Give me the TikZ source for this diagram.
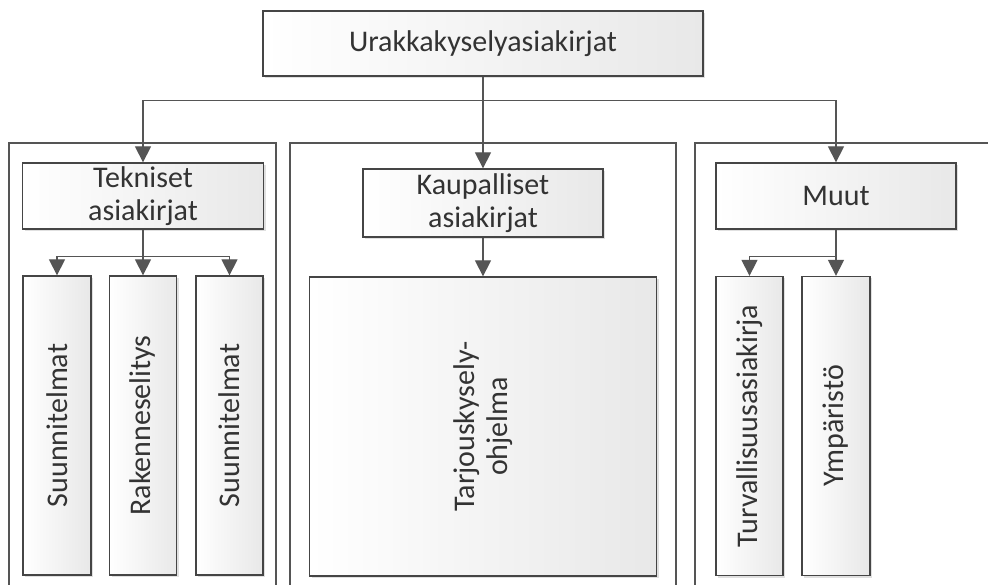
\documentclass[tikz,border=0pt]{standalone}
\usepackage{fontspec}
\setmainfont{Carlito}
\usetikzlibrary{arrows.meta,shadows}
\definecolor{edge}{HTML}{454545}
\definecolor{frame}{HTML}{555555}
\definecolor{ink}{HTML}{333333}
\tikzset{
  docbox/.style={draw=edge, line width=1.3pt, rectangle, inner sep=0pt,
    left color=white, right color=black!9,
    drop shadow={shadow xshift=2pt, shadow yshift=-2pt, opacity=0.12, fill=black},
    text=ink, font=\fontsize{30}{33}\selectfont, align=center},
  vlabel/.style={rotate=90, text=ink, font=\fontsize{30}{33}\selectfont, align=center},
  group/.style={draw=frame, line width=1.4pt},
  link/.style={draw=frame, line width=1.3pt, -{Triangle[length=16pt,width=16pt]}},
}
\begin{document}
\begin{tikzpicture}[x=1pt,y=-1pt]
\useasboundingbox (0,0) rectangle (988,585);
\clip (0,0) rectangle (988,585);
\fill[white] (0,0) rectangle (988,585);

% group frames
\draw[group] (9,600) -- (9,143) -- (276,143) -- (276,600);
\draw[group] (290,600) -- (290,143) -- (676,143) -- (676,600);
\draw[group] (695,600) -- (695,143) -- (1000,143);

% main document boxes
\node[docbox, minimum width=440pt, minimum height=65pt] (top) at (483,43.5) {Urakkakyselyasiakirjat};
\node[docbox, minimum width=241pt, minimum height=66pt] (tek) at (143,196) {Tekniset\\asiakirjat};
\node[docbox, minimum width=240pt, minimum height=68pt] (kaup) at (483,203) {Kaupalliset\\asiakirjat};
\node[docbox, minimum width=240pt, minimum height=66pt] (muut) at (836,196) {Muut};

% tall boxes
\node[docbox, minimum width=68pt, minimum height=299pt] (s1) at (57,425.5) {};
\node[docbox, minimum width=67pt, minimum height=299pt] (rak) at (143,425.5) {};
\node[docbox, minimum width=67pt, minimum height=299pt] (s2) at (229.5,425.5) {};
\node[docbox, minimum width=347pt, minimum height=299pt] (tarj) at (483,426.5) {};
\node[docbox, minimum width=67pt, minimum height=299pt] (turv) at (749.5,426) {};
\node[docbox, minimum width=68pt, minimum height=299pt] (ymp) at (836,426) {};

\node[vlabel] at (s1) {Suunnitelmat};
\node[vlabel] at (rak) {Rakenneselitys};
\node[vlabel] at (s2) {Suunnitelmat};
\node[vlabel] at (tarj) {Tarjouskysely-\\ohjelma};
\node[vlabel] at (turv) {Turvallisuusasiakirja};
\node[vlabel] at (ymp) {Ympäristö};

% connectors
\draw[link] (top.south) -- (kaup.north);
\draw[link] (top.south) -- ++(0,24) -| (tek.north);
\draw[link] (top.south) -- ++(0,24) -| (muut.north);

\draw[link] (tek.south) -- (rak.north);
\draw[link] (tek.south) -- ++(0,27) -| (s1.north);
\draw[link] (tek.south) -- ++(0,27) -| (s2.north);

\draw[link] (kaup.south) -- (tarj.north);

\draw[link] (muut.south) -- (ymp.north);
\draw[link] (muut.south) -- ++(0,27) -| (turv.north);
\end{tikzpicture}
\end{document}
